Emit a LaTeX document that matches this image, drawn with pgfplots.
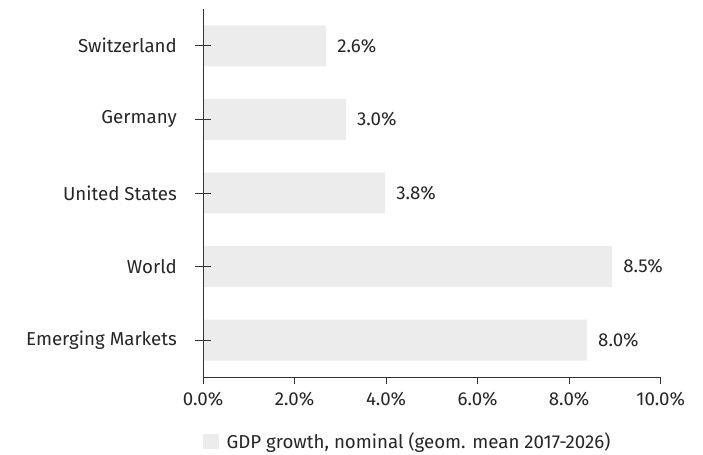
\documentclass[border=0pt]{standalone}
\usepackage{fontspec}
\setmainfont{Fira Sans}
\usepackage{pgfplots}
\pgfplotsset{compat=1.18}
\usepackage{pgfplotstable}

\definecolor{barfill}{HTML}{ECECEC}
\definecolor{txt}{HTML}{262626}
\definecolor{axc}{HTML}{333333}

% bar length as drawn, label as printed
\pgfplotstableread{
pos value label
0 8.39 8.0
1 8.94 8.5
2 3.98 3.8
3 3.12 3.0
4 2.69 2.6
}\gdp

\newcommand{\fs}{\fontsize{18.7bp}{22bp}\selectfont}

\begin{document}
\begin{tikzpicture}
\begin{axis}[
  set layers,
  at={(203bp,78bp)}, anchor=south west,
  scale only axis,
  width=457.7bp, height=368bp,
  xbar, bar width=41bp,
  xmin=0, xmax=10,
  ymin=-0.5, ymax=4.5,
  axis x line*=bottom, axis y line*=left,
  axis line style={-, color=axc, line width=0.8bp},
  xtick={0,2,4,6,8,10},
  xticklabel={\pgfmathprintnumber[fixed,fixed zerofill,precision=1]{\tick}\%},
  ytick={0,1,2,3,4},
  yticklabels={Emerging Markets, World, United States, Germany, Switzerland},
  tick align=outside,
  major tick length=7bp,
  tick style={color=axc, line width=0.8bp},
  ytick style={draw=none},
  yticklabel style={inner sep=0pt, xshift=-19bp},
  xticklabel style={inner sep=0pt, yshift=-8bp},
  /pgf/number format/assume math mode=true,
  font=\fs,
  every tick label/.append style={color=txt, font=\fs},
  point meta=explicit symbolic,
  nodes near coords={\pgfplotspointmeta\%},
  nodes near coords style={anchor=west, inner sep=0pt, xshift=11bp, color=txt, font=\fs},
  legend style={at={(0,-0.1753)}, anchor=west, draw=none, fill=none,
    inner sep=0pt, outer sep=0pt, column sep=8bp,
    nodes={inner sep=0pt, text=txt, font=\fs}},
  legend image code/.code={\fill[barfill] (0bp,-7.5bp) rectangle (15.5bp,7.5bp);},
  clip=false,
]
\addplot[fill=barfill, draw=none, on layer=axis background] table[x=value, y=pos, meta=label] {\gdp};
\addlegendentry{GDP growth, nominal (geom. mean 2017-2026)}
\pgfplotsinvokeforeach{0,...,4}{
  \draw[axc, line width=0.8bp] (axis cs:0,#1) ++(-8bp,0bp) -- ++(16bp,0bp);
}
\end{axis}
\pgfresetboundingbox
\useasboundingbox (0,0) rectangle (703bp,455bp);
\end{tikzpicture}
\end{document}
